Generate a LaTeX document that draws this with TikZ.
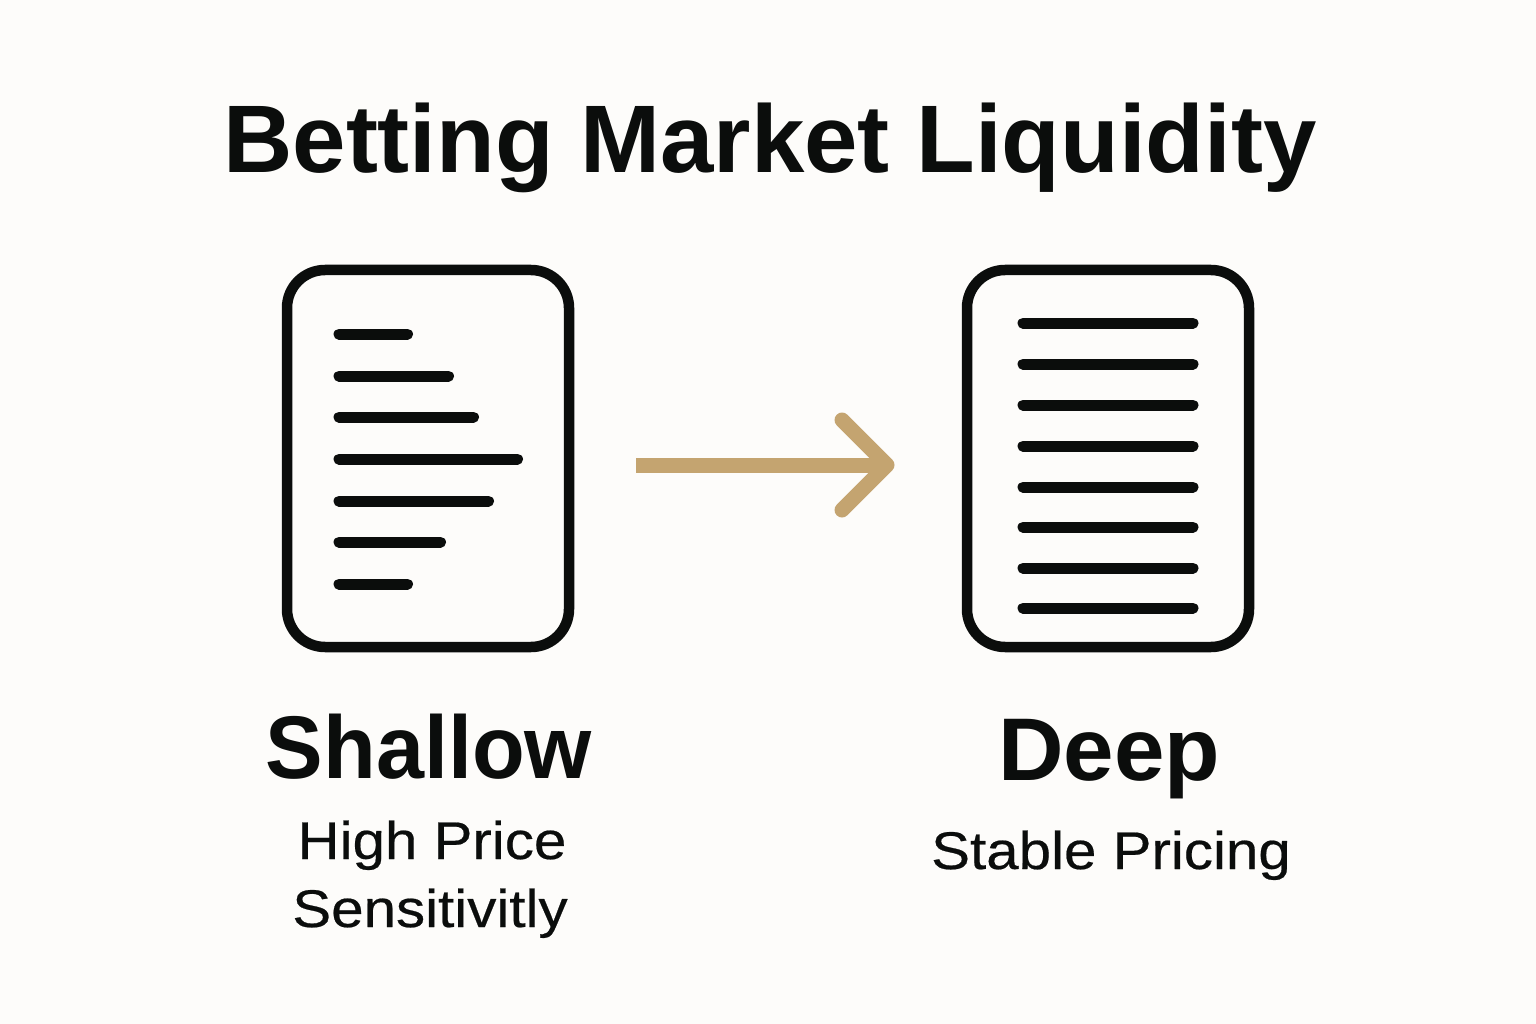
\documentclass[tikz,border=0pt]{standalone}
\usepackage{fontspec}
\setmainfont{Liberation Sans}
\newfontfamily\subfont[FakeStretch=1.1,FakeBold=0.4]{Liberation Sans}
\newfontfamily\headfont[FakeStretch=0.97]{Liberation Sans}
\newfontfamily\deepfont[FakeStretch=1.02]{Liberation Sans}
\definecolor{bg}{RGB}{253,252,250}
\definecolor{ink}{RGB}{11,13,12}
\definecolor{gold}{RGB}{196,164,112}
\begin{document}
\begin{tikzpicture}[x=1pt,y=-1pt,
  docbox/.style={draw=ink,line width=10.5pt,rounded corners=38pt,minimum width=282pt,minimum height=377pt,inner sep=0pt},
  rowline/.style={draw=ink,line width=11pt,line cap=round},
  headtxt/.style={text=ink,font=\headfont\bfseries\fontsize{89}{100}\selectfont,anchor=base,inner sep=0pt},
  subtxt/.style={text=ink,font=\subfont\fontsize{53}{60}\selectfont,anchor=base,inner sep=0pt},
  arrowline/.style={draw=gold,line width=15pt}
]
\fill[bg] (0,0) rectangle (1536,1024);
\useasboundingbox (0,0) rectangle (1536,1024);

\node[text=ink,font=\bfseries\fontsize{96}{110}\selectfont,anchor=base,inner sep=0pt] (title) at (770,173) {Betting Market Liquidity};

\node[docbox] (shallowbox) at (428,458.5) {};
\node[docbox] (deepbox) at (1108,458.5) {};

% shallow rows
\foreach \y/\e in {334/407.5,376/448.5,417/473.5,459/517.5,501/488.5,542/440.5,584/407.5}
  \draw[rowline] (339,\y) -- (\e,\y);
% deep rows
\foreach \y in {323,364,405,446,487,527,568,608}
  \draw[rowline] (1023,\y) -- (1193,\y);

% arrow
\coordinate (astart) at (636,465);
\coordinate (atip) at (887,465);
\coordinate (aup) at (842,420);
\coordinate (adown) at (842,510);
\draw[arrowline,line cap=butt] (astart) -- (atip);
\draw[arrowline,line cap=round,line join=round] (aup) -- (atip) -- (adown);

\node[headtxt] (shallow) at (429,778) {Shallow};
\node[headtxt,font=\deepfont\bfseries\fontsize{89}{100}\selectfont] (deep) at (1109,780) {Deep};
\node[subtxt] (high) at (432,859) {High Price};
\node[subtxt] (sens) at (430,927) {Sensitivitly};
\node[subtxt] (stable) at (1111,869) {Stable Pricing};
\end{tikzpicture}
\end{document}
